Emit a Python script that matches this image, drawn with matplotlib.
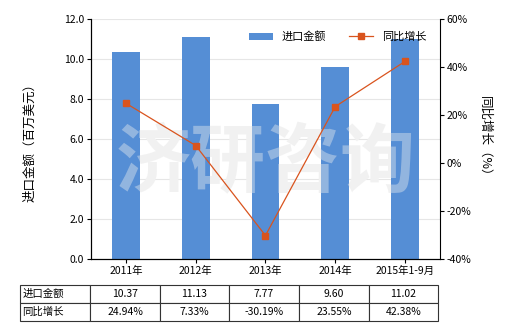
import matplotlib
matplotlib.use("Agg")
import matplotlib.pyplot as plt
import numpy as np

plt.rcParams['font.family'] = ['Noto Sans CJK SC', 'DejaVu Sans']
plt.rcParams['font.size'] = 7.5

categories = ["2011年", "2012年", "2013年", "2014年", "2015年1-9月"]
import_amount = [10.37, 11.13, 7.77, 9.60, 11.02]
growth = [24.94, 7.33, -30.19, 23.55, 42.38]

bar_color = "#558ed5"
line_color = "#d9541e"

fig = plt.figure(figsize=(5.2, 3.3), dpi=100)
ax = fig.add_axes([0.175, 0.215, 0.671, 0.727])
x = np.arange(len(categories))

ax.bar(x, import_amount, width=0.4, color=bar_color, label="进口金额", zorder=2)
ax.set_ylim(0, 12)
ax.set_yticks(np.arange(0, 12.1, 2))
ax.set_yticklabels([f"{v:.1f}" for v in np.arange(0, 12.1, 2)])
ax.set_xlim(-0.5, 4.5)
ax.set_xticks(x)
ax.set_xticklabels(categories)
ax.yaxis.grid(True, color="#e6e6e6", linewidth=0.8, zorder=0)
ax.set_axisbelow(True)
ax.spines['top'].set_visible(False)
ax.spines['right'].set_visible(False)
ax.tick_params(axis='both', length=3, width=0.8, pad=2)
ax.set_ylabel("进口金额（百万美元）", labelpad=20, fontsize=9)

ax2 = ax.twinx()
ax2.plot(x, growth, color=line_color, linewidth=0.9, marker="s", markersize=4,
         label="同比增长", zorder=3)
ax2.set_ylim(-40, 60)
ax2.set_yticks(np.arange(-40, 61, 20))
ax2.set_yticklabels([f"{v}%" for v in range(-40, 61, 20)])
ax2.spines['top'].set_visible(False)
ax2.tick_params(axis='y', length=3, width=0.8, pad=2)
ax2.set_ylabel("同比增长（%）", rotation=270, labelpad=14, fontsize=9)

# watermark: faint gray on white, lighter tint over the bars
ax.text(0.5, 0.4, "济研咨询", transform=ax.transAxes, ha="center", va="center",
        fontsize=54, color="#f3f3f3", zorder=1, fontweight="bold")
ax.text(0.5, 0.4, "济研咨询", transform=ax.transAxes, ha="center", va="center",
        fontsize=54, color="#f0f0f0", alpha=0.4, zorder=2.5, fontweight="bold")

h1, l1 = ax.get_legend_handles_labels()
h2, l2 = ax2.get_legend_handles_labels()
ax2.legend(h1 + h2, l1 + l2, loc="upper right", ncol=2, frameon=False,
           bbox_to_anchor=(0.99, 0.99), handlelength=2.2, columnspacing=2.0,
           fontsize=8)

# data table below the chart
cell_text = [["进口金额"] + [f"{v:.2f}" for v in import_amount],
             ["同比增长"] + [f"{v:.2f}%" for v in growth]]
tab_ax = fig.add_axes([20 / 520, 1 - 321 / 330, 418 / 520, 36 / 330])
tab_ax.axis("off")
tbl = tab_ax.table(cellText=cell_text, cellLoc="center", bbox=[0, 0, 1, 1],
                   colWidths=[70, 70, 69, 70, 70, 69])
tbl.auto_set_font_size(False)
tbl.set_fontsize(7.5)
for (r, c), cell in tbl.get_celld().items():
    cell.set_linewidth(0.8)
    cell.set_edgecolor("#333333")
    if c == 0:
        cell.get_text().set_ha("left")
        cell.PAD = 0.03

fig.savefig("out.png", dpi=100)
